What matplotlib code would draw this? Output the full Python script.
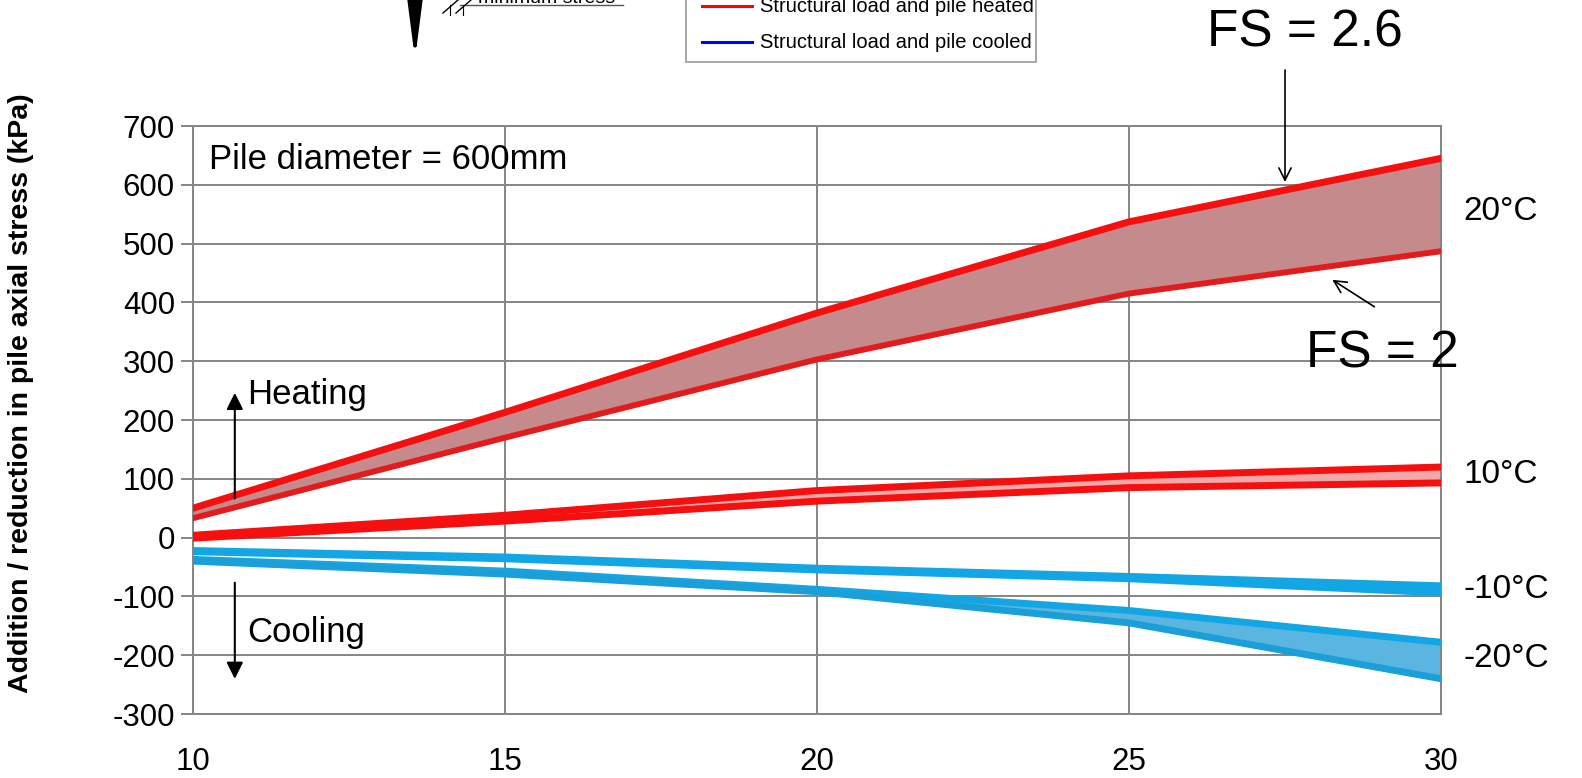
import numpy as np
import matplotlib
matplotlib.use("Agg")
import matplotlib.pyplot as plt
from matplotlib.patches import Rectangle, FancyArrowPatch
from matplotlib.lines import Line2D

plt.rcParams['font.family'] = ['Liberation Sans', 'DejaVu Sans']
plt.rcParams['axes.unicode_minus'] = False

# --- data ---
temp_x = [10, 15, 20, 25, 30]          # x axis values
heat20_fs26 = [50, 213, 382, 537, 645]
heat20_fs2 = [33, 170, 303, 415, 487]
heat10_fs26 = [4, 38, 80, 105, 120]
heat10_fs2 = [-1, 28, 62, 85, 93]
cool10_fs26 = [-22, -33, -52, -66, -82]
cool10_fs2 = [-24, -36, -55, -70, -94]
cool20_fs26 = [-37, -57, -88, -124, -178]
cool20_fs2 = [-40, -62, -92, -145, -240]

band_labels = ['20°C', '10°C', '-10°C', '-20°C']
band_label_y = [555, 107, -88, -205]

RED = '#f50f0f'
BLUE = '#12a6e4'

fig = plt.figure(figsize=(15.82, 7.78), dpi=100)
ax = fig.add_axes([193 / 1582, 64 / 778, 1248 / 1582, 588 / 778])

lw = 5.0
# heated bands
ax.fill_between(temp_x, heat20_fs2, heat20_fs26, color='#c58a8c', zorder=2)
ax.plot(temp_x, heat20_fs26, color=RED, lw=lw, zorder=3, solid_capstyle='round')
ax.plot(temp_x, heat20_fs2, color='#e21c1c', lw=lw * 0.85, zorder=3, solid_capstyle='round')
ax.fill_between(temp_x, heat10_fs2, heat10_fs26, color='#f0a8a8', zorder=2)
ax.plot(temp_x, heat10_fs26, color=RED, lw=lw, zorder=3, solid_capstyle='round')
ax.plot(temp_x, heat10_fs2, color=RED, lw=lw, zorder=3, solid_capstyle='round')

# cooled bands
ax.fill_between(temp_x, cool20_fs2, cool20_fs26, color='#5ab6e0', zorder=2)
ax.plot(temp_x, cool20_fs26, color=BLUE, lw=lw, zorder=3, solid_capstyle='round')
ax.plot(temp_x, cool20_fs2, color='#1a9fd8', lw=lw, zorder=3, solid_capstyle='round')
ax.fill_between(temp_x, cool10_fs2, cool10_fs26, color='#5ab6e0', zorder=2)
ax.plot(temp_x, cool10_fs26, color=BLUE, lw=lw, zorder=3, solid_capstyle='round')
ax.plot(temp_x, cool10_fs2, color=BLUE, lw=lw, zorder=3, solid_capstyle='round')

ax.set_xlim(10, 30)
ax.set_ylim(-300, 700)
ax.set_xticks([10, 15, 20, 25, 30])
ax.set_yticks(range(-300, 701, 100))
ax.grid(True, color='#858585', lw=1.4, zorder=1)
ax.set_axisbelow(True)
for s in ax.spines.values():
    s.set_color('#858585')
    s.set_linewidth(1.4)
ax.tick_params(axis='y', direction='out', length=9, width=1.4, color='#858585',
               labelsize=22.5, pad=4)
ax.tick_params(axis='x', length=0, labelsize=22.5, pad=24)
ax.set_ylabel('Addition / reduction in pile axial stress (kPa)', fontsize=20.5,
              fontweight='bold')
ax.yaxis.set_label_coords(-0.1275, 0.546)

ax.text(10.26, 643, 'Pile diameter = 600mm', fontsize=25, va='center', zorder=5)

# heating / cooling arrows
ax.annotate('', xy=(10.67, 251), xytext=(10.67, 62),
            arrowprops=dict(arrowstyle='-|>', color='black', lw=1.5, mutation_scale=25))
ax.text(10.87, 243, 'Heating', fontsize=25, va='center')
ax.annotate('', xy=(10.67, -245), xytext=(10.67, -72),
            arrowprops=dict(arrowstyle='-|>', color='black', lw=1.5, mutation_scale=25))
ax.text(10.87, -162, 'Cooling', fontsize=25, va='center')

# band labels on the right
for lab, yv in zip(band_labels, band_label_y):
    ax.text(30.36, yv, lab, fontsize=24, va='center', clip_on=False)

# FS annotations
fs_font = ['Liberation Sans Narrow', 'Liberation Sans', 'DejaVu Sans']
fig.text(1305 / 1582, 1 - 33 / 778, 'FS = 2.6', fontsize=37, family=fs_font,
         ha='center', va='center')
ax.annotate('', xy=(27.5, 600), xytext=(27.5, 800),
            arrowprops=dict(arrowstyle='->', color='black', lw=1.2, mutation_scale=22),
            annotation_clip=False)
fig.text(1382 / 1582, 1 - 354 / 778, 'FS = 2', fontsize=37, family=fs_font,
         ha='center', va='center')
ax.annotate('', xy=(28.22, 441), xytext=(28.97, 390),
            arrowprops=dict(arrowstyle='->', color='black', lw=1.2, mutation_scale=22))

# --- cropped schematic / legend at the top ---
fig.patches.append(Rectangle((686 / 1582, 1 - 62 / 778), 350 / 1582, 0.2,
                             transform=fig.transFigure, facecolor='white',
                             edgecolor='#9a9a9a', lw=1.2))
fig.lines.append(Line2D([702 / 1582, 752 / 1582], [1 - 6 / 778] * 2,
                        transform=fig.transFigure, color='#ff0000', lw=2.2))
fig.lines.append(Line2D([702 / 1582, 752 / 1582], [1 - 42 / 778] * 2,
                        transform=fig.transFigure, color='#0000ff', lw=2.2))
fig.text(760 / 1582, 1 - 7 / 778, 'Structural load and pile heated', fontsize=14.5,
         va='center')
fig.text(760 / 1582, 1 - 42 / 778, 'Structural load and pile cooled', fontsize=14.5,
         va='center')

fig.patches.append(FancyArrowPatch(
    (415 / 1582, 1.01), (415 / 1582, 1 - 62 / 778), transform=fig.transFigure,
    arrowstyle='-|>,head_length=1.7,head_width=0.22', mutation_scale=20,
    color='black', lw=2.5))
fig.lines.append(Line2D([460 / 1582, 623 / 1582], [1 - 5 / 778] * 2,
                        transform=fig.transFigure, color='#555555', lw=1.0))
for hx in (443, 456):
    fig.lines.append(Line2D([hx / 1582, (hx + 15) / 1582], [1 - 13 / 778, 1.0],
                            transform=fig.transFigure, color='black', lw=1.0))
    fig.lines.append(Line2D([(hx + 7) / 1582] * 2, [1 - 15 / 778, 1 - 5 / 778],
                            transform=fig.transFigure, color='black', lw=0.8))
fig.text(478 / 1582, 1 - 3 / 778, 'minimum stress', fontsize=14, va='baseline')

fig.savefig('out.png', dpi=100)
